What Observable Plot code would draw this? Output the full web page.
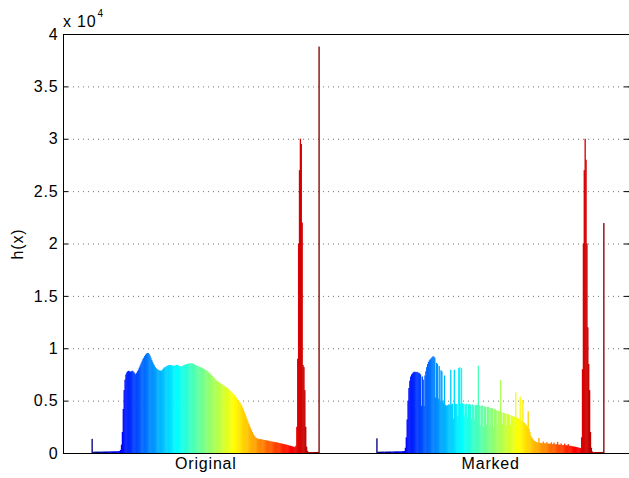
<!DOCTYPE html>
<html><head><meta charset="utf-8">
<script src="https://cdn.jsdelivr.net/npm/d3@7"></script>
<script src="https://cdn.jsdelivr.net/npm/@observablehq/plot@0.6"></script>
<style>html,body{margin:0;padding:0;background:#fff;} svg{display:block}</style>
</head><body><div id="chart"></div>
<script>
const groups = ["Original", "Marked"];
const original = [
1350,110,120,115,125,120,130,125,120,130,
135,130,125,135,140,130,135,140,145,140,
150,145,150,155,150,160,155,160,170,165,
180,200,300,800,2000,4200,6000,7000,7500,7700,
7800,7850,7800,7750,7800,7850,7800,7700,7600,7500,
7650,7800,7950,8150,8350,8550,8750,8950,9100,9250,
9380,9480,9550,9550,9450,9300,9100,8900,8700,8500,
8350,8200,8100,8000,7950,7900,7880,7860,7850,7950,
8050,8150,8200,8250,8300,8350,8380,8400,8400,8380,
8360,8340,8320,8350,8380,8420,8400,8350,8300,8280,
8270,8280,8320,8380,8420,8450,8480,8500,8520,8540,
8550,8560,8560,8540,8500,8450,8400,8350,8300,8300,
8250,8200,8180,8150,8100,8050,8000,7950,7900,7850,
7780,7700,7620,7530,7450,7360,7270,7180,7080,6990,
6900,6840,6780,6720,6660,6600,6550,6490,6430,6370,
6320,6270,6190,6110,6030,5950,5870,5790,5710,5630,
5520,5400,5290,5180,5060,4950,4840,4700,4540,4350,
4150,3920,3700,3480,3250,3030,2810,2600,2400,2200,
2000,1810,1680,1570,1480,1420,1370,1340,1330,1320,
1300,1290,1270,1250,1240,1220,1200,1190,1170,1150,
1130,1110,1090,1080,1060,1040,1030,1020,1000,980,
960,940,920,900,880,860,840,820,800,780,
750,730,700,680,660,630,610,590,570,700,
2500,9000,20000,27000,30000,29500,22000,8400,8200,6000,
2500,600,200,100,90,95,90,100,95,90,
100,95,90,100,110,38800
];
const marked = [
1400,110,115,120,115,125,120,130,125,120,
130,135,130,125,135,140,130,135,140,145,
140,150,145,150,155,150,160,155,160,170,
170,190,500,1500,3200,5000,6200,6900,7300,7500,
7600,7700,7750,7750,7700,7750,7700,7650,7600,7500,
4500,7300,7000,4500,7400,7800,8200,8500,8700,8850,
8950,9050,9150,9230,9200,9100,5300,8600,8500,5200,
8300,5000,7900,7800,5000,4800,7400,4600,4500,4550,
4600,4650,4600,7950,4650,4700,3300,7950,4700,4650,
4700,3500,8100,8180,4700,8100,4750,4700,3600,4700,
4650,4700,3400,4650,4700,4600,3300,4650,4600,4550,
3200,4600,4550,4600,8340,4550,2600,4500,4550,4500,
2500,4450,4400,2700,4400,4400,4350,2600,4300,4300,
4250,2500,4200,4150,4100,2700,4050,4000,3950,6970,
3900,2800,3850,3800,3800,3750,2600,3720,3700,3650,
2700,3600,3550,3500,3480,3450,5790,3400,3350,3300,
3250,5380,3150,3050,5060,2950,2850,2750,2650,2550,
3980,2300,2000,1650,1500,1350,1250,1150,1100,1050,
1020,1000,1430,980,960,950,940,1100,930,920,
910,1050,900,890,880,870,1020,860,850,1000,
840,830,820,1050,800,790,780,920,770,760,
750,900,740,730,720,850,700,690,680,660,
640,620,600,590,570,550,530,500,480,460,
1500,8000,20000,27000,30000,28000,20000,12000,8500,6000,
2000,500,150,100,95,90,100,95,90,100,
95,90,100,95,110,21950
];
const yTicks = [0, 5000, 10000, 15000, 20000, 25000, 30000, 35000, 40000];
const yTickLabels = ["0", "0.5", "1", "1.5", "2", "2.5", "3", "3.5", "4"];
const yLabel = "h(x)";
const yMultiplier = "x 10";
const yExponent = "4";

const nBins = 256, groupStep = 320;
function jet(t) {
  const c = v => Math.max(0, Math.min(1, v));
  const r = c(Math.min(4 * t - 1.5, -4 * t + 4.5));
  const g = c(Math.min(4 * t - 0.5, -4 * t + 3.5));
  const b = c(Math.min(4 * t + 0.5, -4 * t + 2.5));
  return d3.rgb(r * 255, g * 255, b * 255).formatHex();
}
const rows = [];
[original, marked].forEach((arr, g) => arr.forEach((v, i) => rows.push({b: g * groupStep + i, v, c: jet(i / (nBins - 1))})));
const groupCenters = groups.map((_, g) => g * groupStep + (nBins - 1) / 2);
const xDomain = [-32.5, 603.5];

const plot = Plot.plot({
  width: 629, height: 478,
  marginLeft: 63, marginRight: 0, marginTop: 34, marginBottom: 25,
  style: {fontFamily: "'Liberation Sans', Arial, sans-serif", fontSize: "16px", color: "#000", background: "#fff", letterSpacing: "0.8px"},
  x: {domain: xDomain},
  y: {domain: [0, 40000]},
  marks: [
    Plot.ruleY(yTicks.slice(1, -1), {stroke: "#000", strokeOpacity: 0.55, strokeDasharray: "1,4"}),
    Plot.rect(rows, {x1: d => d.b - 0.5, x2: d => d.b + 1.0, y1: 0, y2: "v", fill: "c"}),
    Plot.ruleY([0], {stroke: "#000"}),
    Plot.ruleY([40000], {stroke: "#000"}),
    Plot.ruleX([xDomain[0]], {stroke: "#000"}),
    Plot.ruleY(yTicks, {insetRight: 561, stroke: "#000"}),
    Plot.ruleY(yTicks, {insetLeft: 561, stroke: "#000"}),
    Plot.axisY({ticks: yTicks, tickSize: 0, tickPadding: 5, tickFormat: d => yTickLabels[yTicks.indexOf(d)], label: null, fontSize: 16}),
    Plot.axisX({ticks: groupCenters, tickSize: 0, tickPadding: 4, tickFormat: d => groups[groupCenters.indexOf(d)], label: null, fontSize: 16})
  ]
});
document.getElementById("chart").appendChild(plot);
const svg = d3.select(plot);
const t = svg.append("text").attr("x", 63).attr("y", 27).attr("text-anchor", "start").attr("font-size", 16).attr("fill", "#000");
t.append("tspan").text(yMultiplier);
t.append("tspan").attr("dy", -10).attr("font-size", 10).attr("dx", 1).text(yExponent);
svg.append("text").attr("transform", "translate(23,244) rotate(-90)").attr("text-anchor", "middle").attr("font-size", 16).attr("fill", "#000").text(yLabel);
</script>
</body></html>
